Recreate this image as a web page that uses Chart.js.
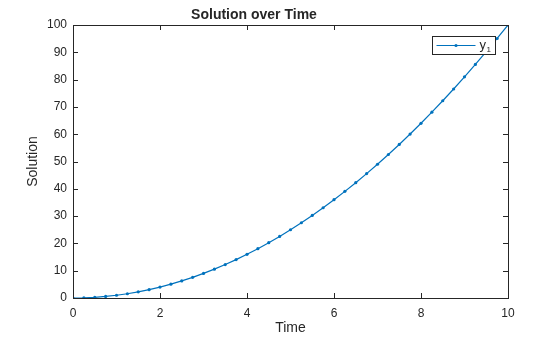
<!DOCTYPE html>
<html>
<head>
<meta charset="utf-8">
<script src="https://cdn.jsdelivr.net/npm/chart.js@4/dist/chart.umd.min.js"></script>
<style>
  html, body { margin: 0; padding: 0; background: #fff; }
  #wrap { width: 560px; height: 337px; }
</style>
</head>
<body>
<div id="wrap"><canvas id="solution-chart"></canvas></div>
<script>
// values
const times = [0, 0.25, 0.5, 0.75, 1, 1.25, 1.5, 1.75, 2, 2.25, 2.5, 2.75, 3, 3.25, 3.5, 3.75,
  4, 4.25, 4.5, 4.75, 5, 5.25, 5.5, 5.75, 6, 6.25, 6.5, 6.75, 7, 7.25, 7.5, 7.75,
  8, 8.25, 8.5, 8.75, 9, 9.25, 9.5, 9.75, 10];
const solution = [0, 0.06, 0.25, 0.56, 1, 1.56, 2.25, 3.06, 4, 5.06, 6.25, 7.56, 9, 10.56, 12.25, 14.06,
  16, 18.06, 20.25, 22.56, 25, 27.56, 30.25, 33.06, 36, 39.06, 42.25, 45.56, 49, 52.56, 56.25, 60.06,
  64, 68.06, 72.25, 76.56, 81, 85.56, 90.25, 95.06, 100];
const xTicks = [0, 2, 4, 6, 8, 10];
const yTicks = [0, 10, 20, 30, 40, 50, 60, 70, 80, 90, 100];

const ink = '#262626';
const lineBlue = '#0072BD';
const fontFam = '"Liberation Sans", Arial, Helvetica, sans-serif';

// matlab style box: top/right edges, inward ticks, legend in the corner
const boxPlugin = {
  id: 'matlabBox',
  afterDatasetsDraw(chart) {
    const { ctx, chartArea: a, scales } = chart;
    ctx.save();
    ctx.strokeStyle = ink;
    ctx.lineWidth = 1;
    ctx.beginPath();
    ctx.moveTo(a.left, a.top + 0.5);
    ctx.lineTo(a.right + 0.5, a.top + 0.5);
    ctx.lineTo(a.right + 0.5, a.bottom);
    const len = 5;
    xTicks.forEach(v => {
      const px = Math.round(scales.x.getPixelForValue(v)) + 0.5;
      ctx.moveTo(px, a.bottom); ctx.lineTo(px, a.bottom - len);
      ctx.moveTo(px, a.top); ctx.lineTo(px, a.top + len);
    });
    yTicks.forEach(v => {
      const py = Math.round(scales.y.getPixelForValue(v)) + 0.5;
      ctx.moveTo(a.left, py); ctx.lineTo(a.left + len, py);
      ctx.moveTo(a.right, py); ctx.lineTo(a.right - len, py);
    });
    ctx.stroke();

    // legend
    const ds = chart.data.datasets[0];
    const bx = 432.5, by = 36.5, bw = 63, bh = 18;
    ctx.fillStyle = '#fff';
    ctx.fillRect(bx, by, bw, bh);
    ctx.strokeRect(bx, by, bw, bh);
    const ly = by + bh / 2;
    ctx.strokeStyle = lineBlue;
    ctx.beginPath();
    ctx.moveTo(bx + 4, ly); ctx.lineTo(bx + 43, ly);
    ctx.stroke();
    ctx.fillStyle = lineBlue;
    ctx.beginPath();
    ctx.arc(bx + 23.5, ly, 1.6, 0, Math.PI * 2);
    ctx.fill();
    ctx.fillStyle = ink;
    ctx.textBaseline = 'alphabetic';
    ctx.font = '13px ' + fontFam;
    ctx.fillText(ds.label[0], bx + 47, ly + 3);
    ctx.font = '8px ' + fontFam;
    ctx.fillText(ds.label.slice(1), bx + 54, ly + 6);
    ctx.restore();
  }
};

const chartEl = document.getElementById('solution-chart');
window.solutionChart = new Chart(chartEl, {
  type: 'line',
  data: {
    datasets: [{
      label: 'y1',
      data: times.map((t, i) => ({ x: t, y: solution[i] })),
      borderColor: lineBlue,
      backgroundColor: lineBlue,
      borderWidth: 1.2,
      pointRadius: 1.6,
      pointBorderWidth: 0,
      pointBackgroundColor: lineBlue,
      tension: 0,
      fill: false
    }]
  },
  options: {
    responsive: true,
    maintainAspectRatio: false,
    animation: false,
    layout: { padding: { left: 0, right: 52, top: 0, bottom: 0 } },
    plugins: {
      legend: { display: false },
      tooltip: { enabled: false },
      title: {
        display: true,
        text: 'Solution over Time',
        color: ink,
        font: { family: fontFam, size: 14, weight: 'bold', lineHeight: 1.2 },
        padding: { top: 6.5, bottom: 1.7 }
      }
    },
    scales: {
      x: {
        type: 'linear',
        min: 0,
        max: 10,
        afterFit: s => { s.height = 39; },
        afterBuildTicks: s => { s.ticks = xTicks.map(v => ({ value: v })); },
        grid: { drawOnChartArea: false, drawTicks: false },
        border: { color: ink, width: 1 },
        ticks: { color: ink, padding: 8, maxRotation: 0, font: { family: fontFam, size: 12 } },
        title: {
          display: true, text: 'Time', color: ink,
          font: { family: fontFam, size: 14, lineHeight: 1.2 },
          padding: { top: 0, bottom: 0 }
        }
      },
      y: {
        type: 'linear',
        min: 0,
        max: 100,
        afterFit: s => { s.width = 73; },
        afterBuildTicks: s => { s.ticks = yTicks.map(v => ({ value: v })); },
        grid: { drawOnChartArea: false, drawTicks: false },
        border: { color: ink, width: 1 },
        ticks: { color: ink, padding: 6, font: { family: fontFam, size: 12 } },
        title: {
          display: true, text: 'Solution', color: ink,
          font: { family: fontFam, size: 14, lineHeight: 1.2 },
          padding: { top: 25, bottom: 0 }
        }
      }
    }
  },
  plugins: [boxPlugin]
});
</script>
</body>
</html>
